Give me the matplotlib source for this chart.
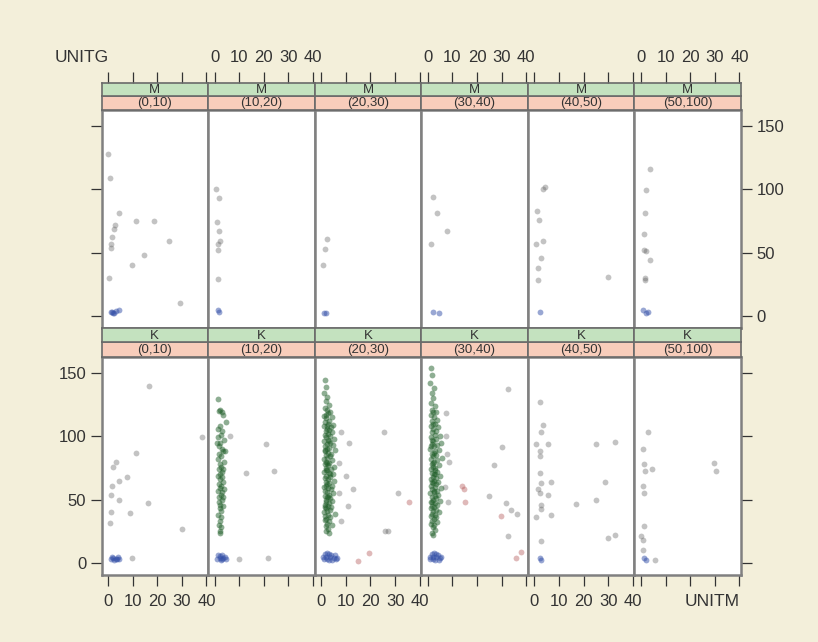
import matplotlib
matplotlib.use('Agg')
import matplotlib.pyplot as plt

# ---------------- data ----------------
row_labels = ['M', 'K']
col_labels = ['(0,10)', '(10,20)', '(20,30)', '(30,40)', '(40,50)', '(50,100)']
x_ticks = [0, 10, 20, 30, 40]
y_ticks = [0, 50, 100, 150]
x_label = 'UNITM'
y_label = 'UNITG'

# Row M
M1_grey = [(0, 128), (0.8, 109), (4.6, 81), (11.3, 75), (18.5, 75), (2.9, 72), (2.5, 69),
           (1.5, 62), (1.3, 57), (1.3, 54), (24.8, 59), (14.4, 48), (9.9, 40), (0.4, 30), (29.3, 10)]
M1_blue = [(1, 3), (2, 2.5), (3, 4), (1.5, 3), (4.5, 5), (2.5, 2)]
M2_grey = [(0.7, 100), (1.7, 93), (1.1, 74), (1.7, 67), (2.1, 59), (1.2, 57), (1.4, 52), (1.4, 29)]
M2_blue = [(1.4, 4.5), (1.6, 3.5)]
M3_grey = [(2.4, 61), (1.7, 53), (0.6, 40)]
M3_blue = [(1.9, 2), (1.2, 2.5)]
M4_grey = [(1.9, 94), (3.9, 81), (7.6, 67), (1.2, 57)]
M4_blue = [(1.9, 3), (4.6, 2.5)]
M5_grey = [(4.2, 102), (3.5, 100), (1.1, 83), (1.8, 76), (0.8, 57), (3.5, 59), (2.6, 46),
           (1.5, 37.5), (1.5, 28), (30, 31)]
M5_blue = [(2.2, 3.5)]
M6_grey = [(3.5, 116), (2.2, 99), (1.75, 81), (1.1, 65), (1.0, 52), (2.2, 51), (3.5, 44),
           (1.5, 28), (1.5, 30)]
M6_blue = [(0.8, 5), (2.2, 2), (3.0, 3)]

# Row K
K1_grey = [(16.8, 140), (11.3, 87), (3.3, 80), (2.0, 76), (7.6, 68), (4.6, 64.5), (1.5, 60.6),
           (1.1, 54), (4.6, 50), (16.4, 47.4), (1.3, 40), (8.7, 39.4), (0.6, 31.5), (30.2, 27),
           (38.1, 99), (9.7, 3.7)]
K1_blue = [(1, 3), (2, 4), (3, 3), (4, 4.5), (1.5, 5), (2.5, 2), (3.5, 3.5), (4.5, 3)]

K2_grey = [(6.1, 100), (20.9, 94), (12.8, 71), (24, 72.5), (9.9, 3), (21.6, 3.7)]
K2_green = [(1.5, 129), (2.2, 121), (1.8, 120), (2.8, 119), (3.5, 117), (4.5, 111), (2.0, 108),
            (1.5, 106), (3.0, 104), (2.5, 101), (1.2, 99), (3.8, 97), (2.2, 95), (1.6, 92),
            (2.8, 90), (3.2, 88), (1.9, 86), (2.5, 84), (1.3, 82), (3.6, 80), (2.1, 78),
            (2.7, 76), (1.7, 74), (3.1, 72), (2.3, 70), (1.5, 69), (2.9, 68), (2.0, 66),
            (3.4, 64), (1.8, 62), (2.6, 61), (2.2, 59), (1.4, 57), (3.0, 56), (2.5, 54),
            (1.9, 52), (2.8, 50), (1.6, 48), (2.3, 46), (3.2, 45), (2.0, 43), (2.7, 41),
            (1.5, 38), (2.4, 36), (2.1, 33), (1.8, 30), (2.6, 28), (2.0, 25), (2.3, 24),
            (3.4, 74), (3.8, 58), (3.3, 52), (0.8, 95), (4.0, 88)]
K2_blue = [(1, 3), (2, 4), (3, 3), (4, 5), (1.5, 6), (2.5, 2), (3.5, 4), (4.5, 3), (2, 5.5), (3, 6)]

K3_grey = [(25.4, 103), (11.4, 95), (12.8, 58), (31, 55), (26, 25), (27, 25), (8.0, 103),
           (10, 68.5), (7.3, 55.3), (10.7, 44.7), (8.0, 32.8), (7.3, 79)]
K3_green = [(1.5, 144), (2.0, 139), (1.2, 134), (2.5, 131), (1.8, 128), (3.0, 125), (1.4, 122),
            (2.2, 121), (3.5, 119), (2.8, 118), (1.0, 116), (4.2, 115), (2.0, 114), (3.2, 112),
            (1.6, 111), (2.6, 110), (4.8, 109), (1.2, 108), (3.8, 107), (2.2, 106), (3.0, 105),
            (1.8, 104), (4.4, 103), (2.6, 102), (1.4, 101), (3.4, 100), (2.0, 99), (5.2, 98),
            (2.8, 97), (1.1, 96), (3.6, 95), (2.4, 94), (4.6, 93), (1.7, 92), (3.1, 91),
            (2.2, 90), (5.6, 89), (1.3, 88), (2.9, 87), (4.0, 86), (1.9, 85), (3.5, 84),
            (2.5, 83), (1.0, 82), (4.4, 81), (2.1, 80), (3.3, 79), (1.5, 78), (2.7, 77),
            (5.0, 76), (1.8, 75), (3.9, 74), (2.3, 73), (1.2, 72), (3.0, 71), (4.7, 70),
            (2.0, 69), (3.6, 68), (1.4, 67), (2.6, 66), (5.3, 65), (1.9, 64), (3.2, 63),
            (2.4, 62), (4.2, 61), (1.1, 60), (2.8, 59), (3.8, 58), (1.6, 57), (2.2, 56),
            (4.9, 55), (3.0, 54), (1.3, 53), (2.5, 52), (3.5, 51), (1.8, 50), (4.5, 49),
            (2.1, 48), (3.1, 47), (1.4, 46), (2.7, 45), (4.0, 44), (1.9, 43), (3.4, 42),
            (2.3, 41), (1.2, 40), (5.5, 39), (2.9, 38), (1.7, 37), (3.7, 36), (2.1, 35),
            (1.5, 34), (3.0, 33), (2.4, 31), (4.2, 30), (1.8, 29), (2.6, 27), (2.0, 25),
            (3.2, 24), (2.0, 117), (3.0, 96), (1.6, 89), (2.4, 79), (3.4, 70), (2.0, 61),
            (2.8, 52), (1.5, 44), (2.5, 108), (1.9, 73)]
K3_blue = [(1, 3), (2, 5), (3, 2), (4, 6), (5, 4), (6, 3), (1.5, 7), (2.5, 8), (3.5, 5),
           (4.5, 2), (0.8, 5), (2.2, 3), (3.2, 7), (5.5, 6), (6.5, 4)]
K3_pink = [(35.8, 48), (19.6, 7.7), (14.8, 1.8)]

K4_grey = [(32.4, 137), (30.3, 91.5), (27, 77), (25, 52.6), (31.7, 47.4), (33.7, 42),
           (36.4, 39), (32.4, 21.4), (7.8, 86), (8.5, 80), (7.2, 100), (6.8, 60), (8.2, 48),
           (7.5, 118)]
K4_green = [(1.2, 154), (1.8, 148), (1.0, 142), (2.4, 138), (1.5, 134), (2.0, 130), (1.3, 126),
            (2.8, 124), (1.8, 121), (3.3, 119), (1.1, 117), (2.5, 115), (3.8, 113), (1.7, 112),
            (2.9, 110), (1.3, 108), (4.2, 107), (2.2, 106), (3.4, 104), (1.6, 103), (2.7, 101),
            (4.8, 100), (1.1, 99), (3.1, 98), (2.0, 96), (5.2, 95), (1.5, 94), (3.6, 93),
            (2.4, 92), (1.0, 90), (4.4, 89), (2.8, 88), (1.8, 86), (3.3, 85), (2.2, 84),
            (5.8, 83), (1.3, 82), (3.9, 81), (2.6, 80), (1.7, 78), (4.6, 77), (2.1, 76),
            (3.0, 75), (1.2, 74), (2.8, 73), (3.8, 72), (1.6, 71), (2.4, 70), (5.0, 69),
            (1.9, 68), (3.4, 67), (1.1, 66), (2.6, 65), (4.2, 64), (2.0, 63), (3.2, 62),
            (1.4, 61), (2.8, 60), (5.4, 59), (1.8, 58), (3.6, 57), (2.3, 56), (1.0, 55),
            (4.0, 54), (2.7, 53), (1.5, 52), (3.3, 51), (2.1, 50), (4.8, 49), (1.3, 48),
            (2.9, 47), (3.8, 46), (1.7, 45), (2.4, 44), (1.1, 43), (3.4, 42), (2.0, 41),
            (4.4, 40), (1.6, 39), (2.8, 38), (1.2, 37), (3.1, 36), (2.3, 35), (1.8, 33),
            (3.6, 32), (1.4, 31), (2.5, 30), (1.9, 28), (2.7, 26), (1.5, 24), (2.2, 22),
            (2.0, 119), (1.6, 97), (2.3, 87), (1.9, 79), (1.5, 64), (2.6, 57), (1.8, 48),
            (2.2, 110), (3.0, 70), (1.4, 92)]
K4_blue = [(1, 3), (2, 5), (3, 2), (4, 6), (5, 4), (1.5, 7), (2.5, 8), (3.5, 5), (4.5, 2),
           (0.8, 5), (2.2, 3), (3.2, 7), (5.5, 5)]
K4_pink = [(14, 60.6), (14.5, 58), (15, 48), (29.6, 36.7), (37.8, 9), (35.8, 3.7)]

K5_grey = [(2.2, 127), (3.5, 108.7), (2.6, 103.4), (0.8, 93.7), (5.5, 93.7), (2.2, 88.3),
           (2.2, 84.4), (25.2, 93.7), (32.6, 95.5), (2.2, 71.2), (2.8, 63.3), (6.6, 64),
           (1.5, 58), (2.2, 55.3), (5.5, 54), (28.6, 63.7), (2.6, 46), (2.8, 42.6), (17, 46.6),
           (25.2, 49.4), (6.6, 38), (0.8, 36), (2.8, 17.7), (29.9, 19.6), (32.9, 21.7)]
K5_blue = [(2.2, 3.7), (2.8, 2.5)]
K6_grey = [(2.85, 103.4), (0.8, 90), (1.06, 77.8), (4.6, 73.8), (1.5, 72.5), (0.8, 60.6),
           (1.06, 55.3), (29.5, 78.6), (30.3, 72.5), (1.06, 28.8), (0.1, 20.9), (0.8, 18.3),
           (0.8, 10.3), (5.5, 2.4)]
K6_blue = [(1.06, 3.7), (2.0, 2.5)]

panel_data = {
    (0, 0): {'grey': M1_grey, 'blue': M1_blue},
    (0, 1): {'grey': M2_grey, 'blue': M2_blue},
    (0, 2): {'grey': M3_grey, 'blue': M3_blue},
    (0, 3): {'grey': M4_grey, 'blue': M4_blue},
    (0, 4): {'grey': M5_grey, 'blue': M5_blue},
    (0, 5): {'grey': M6_grey, 'blue': M6_blue},
    (1, 0): {'grey': K1_grey, 'blue': K1_blue},
    (1, 1): {'grey': K2_grey, 'green': K2_green, 'blue': K2_blue},
    (1, 2): {'grey': K3_grey, 'green': K3_green, 'blue': K3_blue, 'pink': K3_pink},
    (1, 3): {'grey': K4_grey, 'green': K4_green, 'blue': K4_blue, 'pink': K4_pink},
    (1, 4): {'grey': K5_grey, 'blue': K5_blue},
    (1, 5): {'grey': K6_grey, 'blue': K6_blue},
}

# ---------------- style ----------------
BG = '#f3efda'
STRIP_G = '#c4e2bf'
STRIP_P = '#f8cdbb'
TXT = '#333333'
colors = {'grey': ('#555555', 0.35), 'green': ('#1f5e28', 0.5),
          'blue': ('#3450a8', 0.5), 'pink': ('#b05050', 0.4)}
plt.rcParams['font.family'] = ['Liberation Sans', 'DejaVu Sans']

W_FIG, H_FIG = 818, 642
fig = plt.figure(figsize=(W_FIG / 100, H_FIG / 100), dpi=100, facecolor=BG)

L, R = 101.5, 741.0
cw = (R - L) / 6
XLIM = (-2.7, 40.65)
YLIM = (-9.5, 162.5)
# rows: (green top, pink top, panel top, panel bottom) in px from top
rows_px = [(82.7, 95.5, 110.0, 328.0), (328.0, 342.0, 357.0, 575.0)]


def fy(p):
    return 1 - p / H_FIG


tick_kw = dict(direction='out', length=8, width=0.9, color='#333333',
               labelsize=12, labelcolor=TXT)

for r in range(2):
    g_top, p_top, a_top, a_bot = rows_px[r]
    for c in range(6):
        x0 = (L + c * cw) / W_FIG
        w = cw / W_FIG
        ax = fig.add_axes([x0, fy(a_bot), w, fy(a_top) - fy(a_bot)])
        ax.set_facecolor('white')
        ax.set_xlim(*XLIM)
        ax.set_ylim(*YLIM)
        for key in ['grey', 'green', 'pink', 'blue']:
            pts = panel_data[(r, c)].get(key, [])
            if pts:
                xs = [p[0] for p in pts]
                ys = [p[1] for p in pts]
                col, al = colors[key]
                ax.plot(xs, ys, 'o', ms=4.2, color=col, alpha=al, mew=0)
        for s in ax.spines.values():
            s.set_color('#808080')
            s.set_linewidth(1.8)
        ax.set_xticks(x_ticks)
        ax.set_yticks(y_ticks)
        ax.tick_params(**tick_kw)
        if r == 1:
            ax.tick_params(axis='x', bottom=True, top=False,
                           labelbottom=(c % 2 == 0), labeltop=False, pad=6)
        else:
            ax.tick_params(axis='x', bottom=False, top=False,
                           labelbottom=False, labeltop=False)
        left = (c == 0)
        right = (c == 5)
        ax.tick_params(axis='y', left=left, right=right,
                       labelleft=(left and r == 1), labelright=(right and r == 0), pad=3)

        # strips
        axp = fig.add_axes([x0, fy(a_top), w, fy(p_top) - fy(a_top)])
        axp.set_facecolor(STRIP_P)
        axp.set_xticks([])
        axp.set_yticks([])
        for s in axp.spines.values():
            s.set_color('#6a6a6a')
            s.set_linewidth(1.2)
        axp.text(0.5, 0.45, col_labels[c], transform=axp.transAxes, ha='center',
                 va='center', fontsize=9.5, color=TXT)
        axg = fig.add_axes([x0, fy(p_top), w, fy(g_top) - fy(p_top)])
        axg.set_facecolor(STRIP_G)
        axg.set_yticks([])
        axg.set_xlim(*XLIM)
        for s in axg.spines.values():
            s.set_color('#6a6a6a')
            s.set_linewidth(1.2)
        axg.text(0.5, 0.42, row_labels[r], transform=axg.transAxes, ha='center',
                 va='center', fontsize=9.5, color=TXT)
        if r == 0:
            axg.set_xticks(x_ticks)
            axg.tick_params(**tick_kw)
            axg.tick_params(axis='x', bottom=False, top=True, labelbottom=False,
                            labeltop=(c % 2 == 1), pad=5)
        else:
            axg.set_xticks([])

fig.text(55 / W_FIG, fy(57), y_label, fontsize=12.5, color=TXT, ha='left', va='center')
fig.text(740 / W_FIG, fy(601), x_label, fontsize=12.5, color=TXT, ha='right', va='center')

fig.savefig('out.png', dpi=100, facecolor=BG)
